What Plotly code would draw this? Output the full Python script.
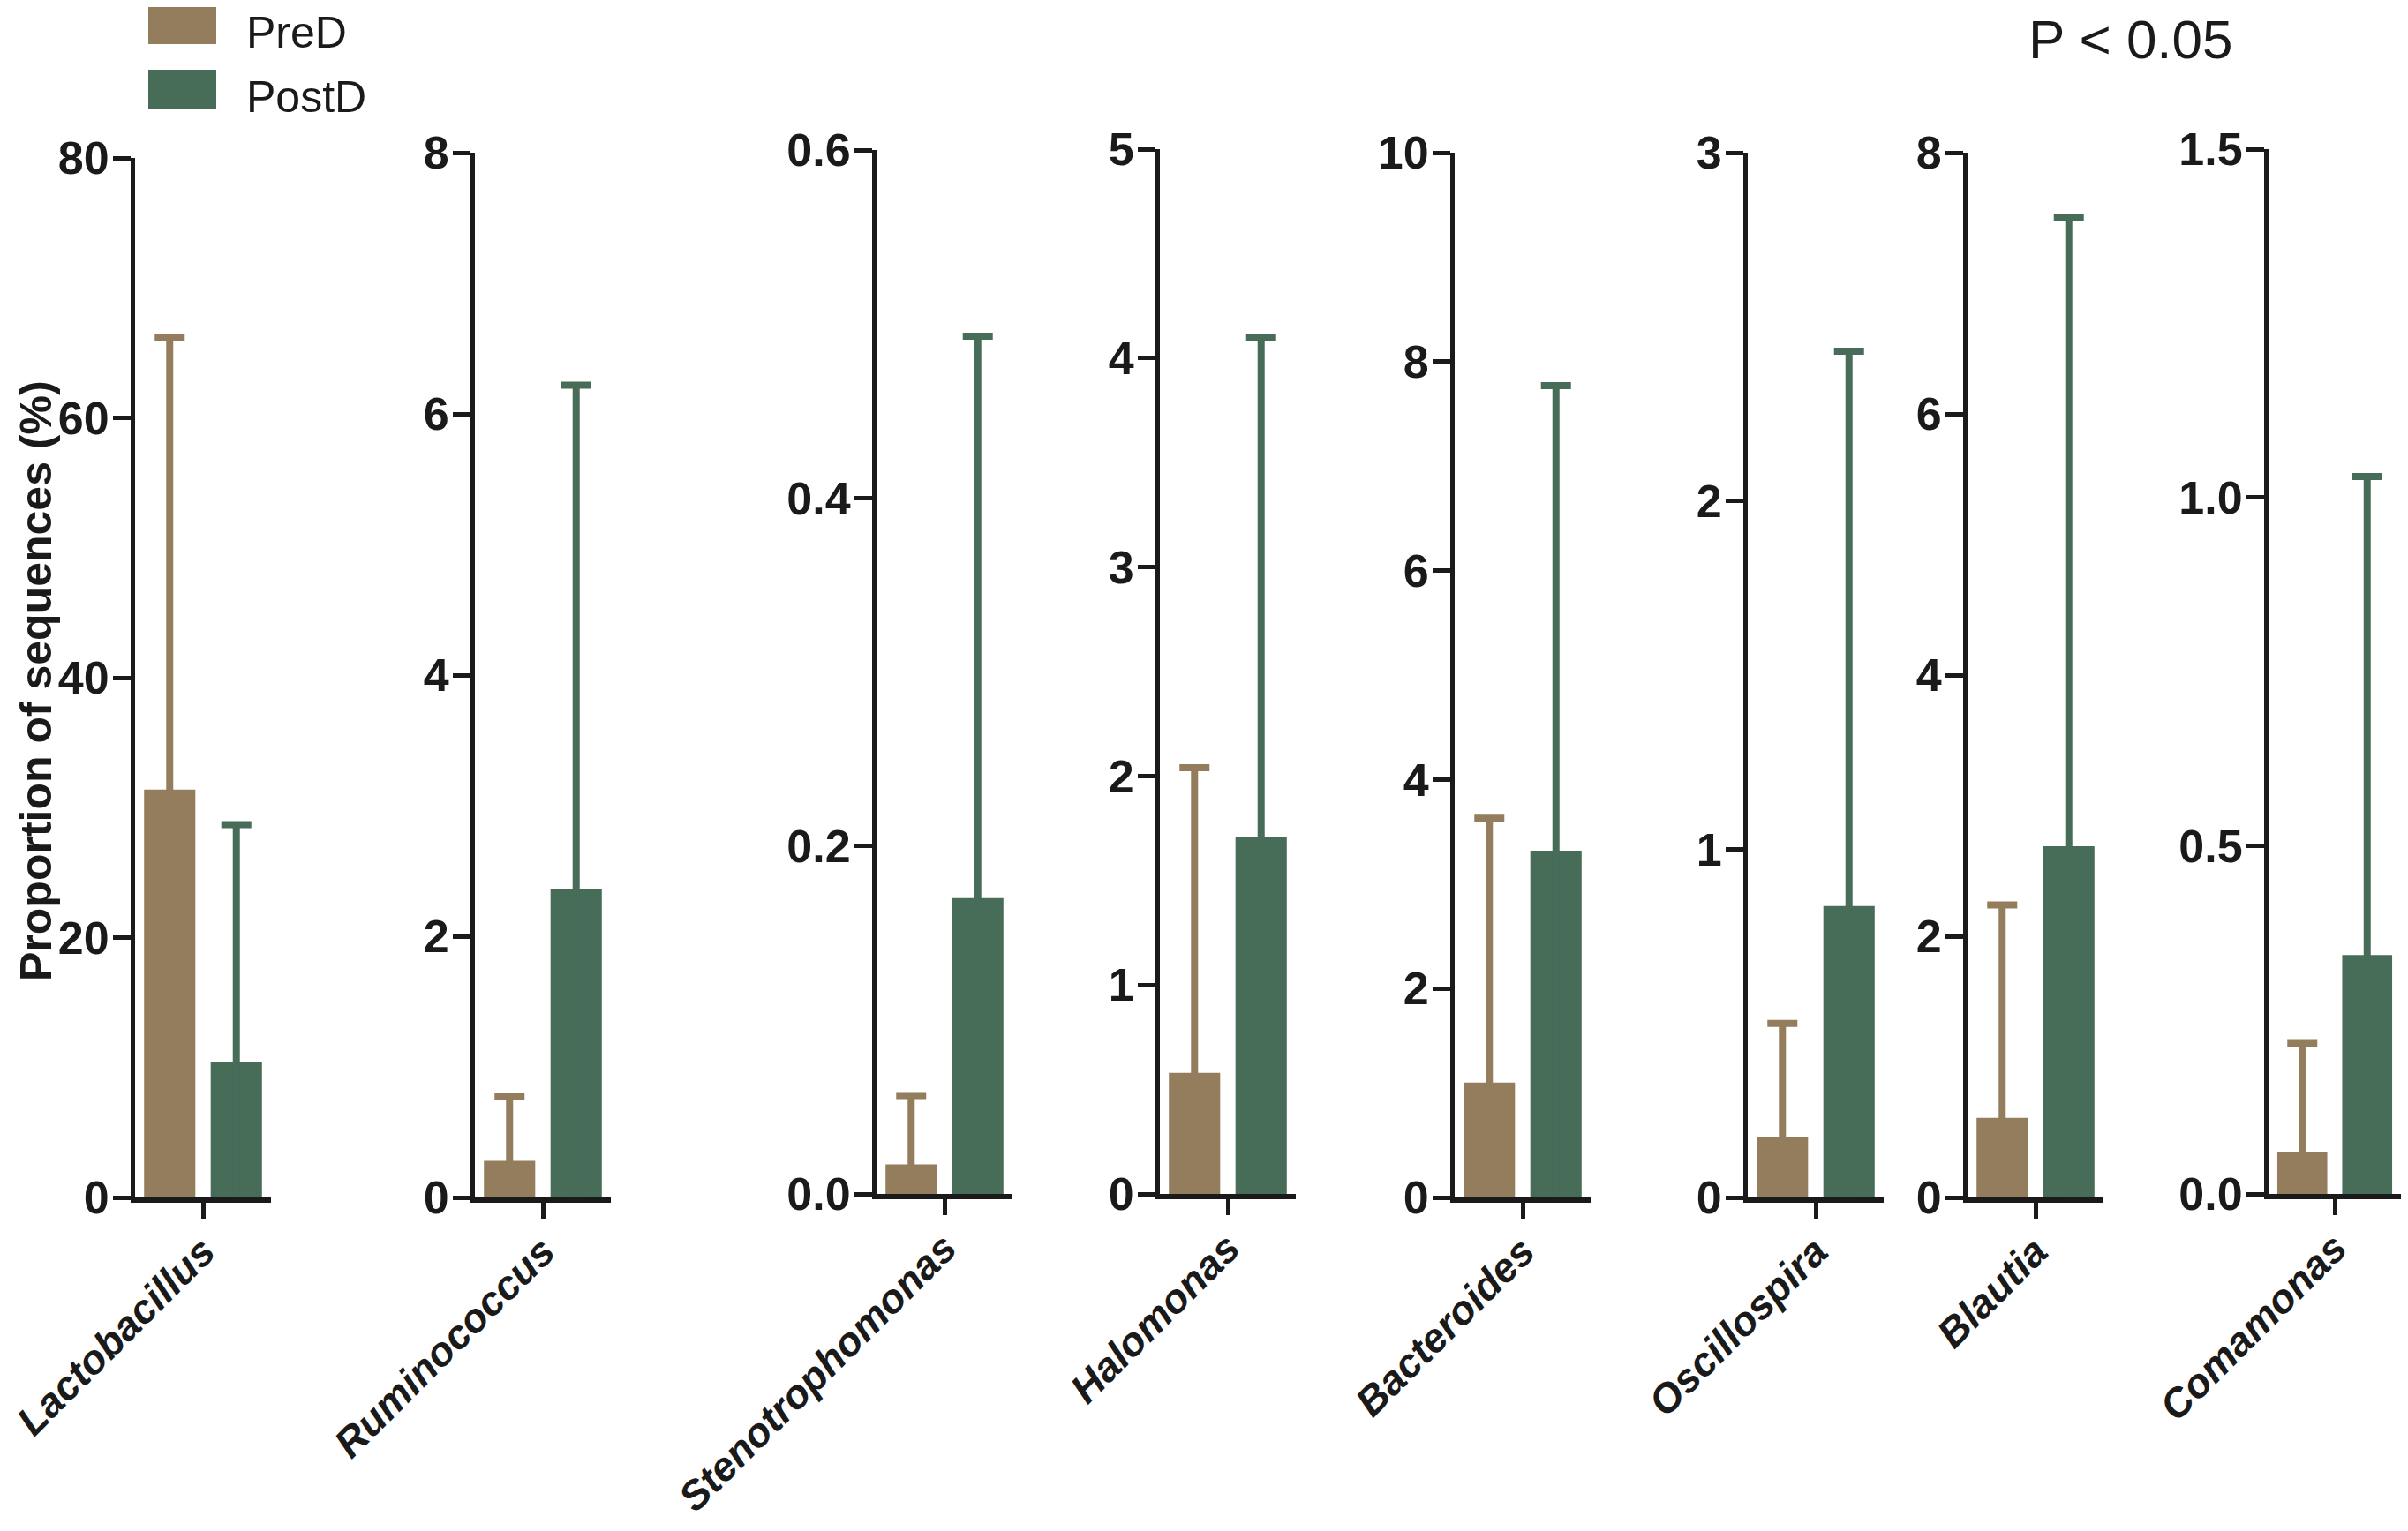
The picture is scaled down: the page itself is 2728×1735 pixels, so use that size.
import plotly.graph_objects as go

W, H = 2728, 1735

# ---- data --------------------------------------------------------------
genera = ["Lactobacillus", "Ruminococcus", "Stenotrophomonas", "Halomonas",
          "Bacteroides", "Oscillospira", "Blautia", "Comamonas"]
groups = ["PreD", "PostD"]

pred_mean = [31.4, 0.28, 0.017, 0.58, 1.10, 0.175, 0.61, 0.060]
pred_upper = [66.2, 0.77, 0.056, 2.04, 3.63, 0.50, 2.24, 0.216]
postd_mean = [10.46, 2.36, 0.170, 1.71, 3.32, 0.837, 2.69, 0.343]
postd_upper = [28.7, 6.22, 0.493, 4.10, 7.77, 2.43, 7.50, 1.03]

y_max = [80, 8, 0.6, 5, 10, 3, 8, 1.5]
y_dtick = [20, 2, 0.2, 1, 2, 1, 2, 0.5]
y_format = ["d", "d", ".1f", "d", "d", "d", "d", ".1f"]

y_title = "Proportion of sequences (%)"
note = "P < 0.05"

# ---- styling / layout ---------------------------------------------------
colors = {"PreD": "#937D5C", "PostD": "#476C58"}
ink = "#1a1a1a"
FONT = "Liberation Sans, Arial, Helvetica, sans-serif"

# the page body has an 8px margin, so the figure is a bit smaller than the
# window and all page-pixel positions are shifted by that margin
OFF = 8
FW, FH = W - 2 * OFF, H - 2 * OFF


def px_x(x):
    return min(1.0, max(0.0, (x - OFF) / FW))


def px_y(y):
    return min(1.0, max(0.0, 1 - (y - OFF) / FH))


# panel placement in page pixels: left edge of y axis, top and bottom of y axis
panel_left = [153, 538, 993, 1314, 1648, 1980, 2229, 2570]
panel_top = [179, 173, 170, 169, 173, 173, 173, 169]
panel_bottom = [1357, 1357, 1353, 1353, 1357, 1357, 1357, 1353]
panel_width = 154

series = {
    "PreD": (pred_mean, pred_upper),
    "PostD": (postd_mean, postd_upper),
}

fig = go.Figure()
layout = {}

for i, genus in enumerate(genera):
    n = "" if i == 0 else str(i + 1)
    for g in groups:
        mean, upper = series[g]
        fig.add_trace(go.Bar(
            x=[genus],
            y=[mean[i]],
            name=g,
            xaxis="x" + n,
            yaxis="y" + n,
            marker=dict(color=colors[g], line=dict(width=0)),
            error_y=dict(
                type="data",
                symmetric=False,
                array=[upper[i] - mean[i]],
                arrayminus=[mean[i]],
                color=colors[g],
                thickness=8,
                width=17,
            ),
            showlegend=False,
        ))

    layout["xaxis" + n] = dict(
        domain=[px_x(panel_left[i]), px_x(panel_left[i] + panel_width)],
        anchor="y" + n,
        type="category",
        showline=True, linewidth=6, linecolor=ink,
        ticks="outside", ticklen=18, tickwidth=5, tickcolor=ink,
        tickangle=-45, ticklabelstandoff=-8,
        tickfont=dict(family=FONT, size=46, color=ink,
                      weight="bold", style="italic"),
        showgrid=False, zeroline=False, fixedrange=True,
        automargin=False,
    )
    layout["yaxis" + n] = dict(
        domain=[px_y(panel_bottom[i]), px_y(panel_top[i])],
        anchor="x" + n,
        range=[0, y_max[i]],
        tick0=0, dtick=y_dtick[i], tickformat=y_format[i],
        showline=True, linewidth=5, linecolor=ink,
        ticks="outside", ticklen=20, tickwidth=5, tickcolor=ink,
        ticklabelstandoff=-6,
        tickfont=dict(family=FONT, size=52, color=ink, weight="bold"),
        showgrid=False, zeroline=False, fixedrange=True,
        automargin=False,
    )

# legend drawn by hand so the swatches can be large
shapes = []
annotations = []
legend_rows = [(6, 50), (79, 124)]
for g, (top, bottom) in zip(groups, legend_rows):
    shapes.append(dict(
        type="rect", xref="paper", yref="paper",
        x0=px_x(168), x1=px_x(245), y0=px_y(bottom), y1=px_y(top),
        fillcolor=colors[g], line=dict(width=0),
    ))
    annotations.append(dict(
        text=g, xref="paper", yref="paper",
        x=px_x(277), y=px_y((top + bottom) / 2 + 9),
        xanchor="left", yanchor="middle", showarrow=False,
        font=dict(family=FONT, size=50, color=ink),
    ))

annotations.append(dict(
    text=note, xref="paper", yref="paper",
    x=px_x(2414), y=1,
    xanchor="center", yanchor="top", showarrow=False,
    font=dict(family=FONT, size=62, color=ink),
))
annotations.append(dict(
    text=y_title, xref="paper", yref="paper",
    x=px_x(41), y=px_y(772), textangle=-90,
    xanchor="center", yanchor="middle", showarrow=False,
    font=dict(family=FONT, size=50, color=ink, weight="bold"),
))

fig.update_layout(
    template="none",
    width=FW, height=FH,
    margin=dict(l=0, r=0, t=0, b=0),
    paper_bgcolor="white", plot_bgcolor="white",
    font=dict(family=FONT, color=ink),
    barmode="group", bargap=0.02, bargroupgap=0.23,
    showlegend=False,
    shapes=shapes,
    annotations=annotations,
    **layout,
)

fig.write_html("out.html")
